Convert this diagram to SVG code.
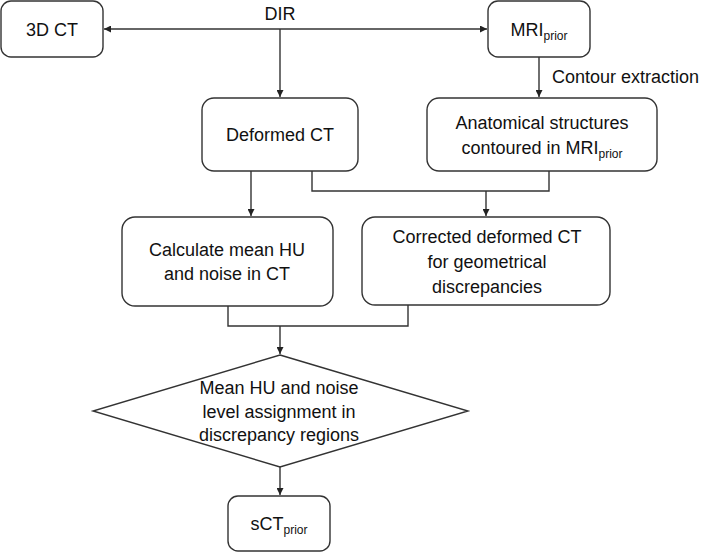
<svg xmlns="http://www.w3.org/2000/svg" width="709" height="552" viewBox="0 0 709 552">
<defs>
<marker id="ah" viewBox="0 0 10 10" refX="10" refY="5" markerWidth="7" markerHeight="7" markerUnits="userSpaceOnUse" orient="auto">
<path d="M0,0 L10,5 L0,10 z" fill="#222"/>
</marker>
<style>
.box{fill:#fff;stroke:#333;stroke-width:1.4}
.ln{fill:none;stroke:#333;stroke-width:1.4}
.t{font-family:"Liberation Sans",Arial,sans-serif;font-size:18px;fill:#111;text-anchor:middle}
.tl{font-family:"Liberation Sans",Arial,sans-serif;font-size:18px;fill:#111}
.sub{font-size:12px}
</style>
</defs>
<rect width="709" height="552" fill="#fff"/>
<g id="connectors">
<line class="ln" x1="280" y1="29" x2="104" y2="29" marker-end="url(#ah)"/>
<line class="ln" x1="280" y1="29" x2="487" y2="29" marker-end="url(#ah)"/>
<line class="ln" x1="280" y1="29" x2="280" y2="97" marker-end="url(#ah)"/>
<text class="t" x="280" y="20">DIR</text>
<line class="ln" x1="539" y1="57" x2="539" y2="97" marker-end="url(#ah)"/>
<text class="tl" x="552" y="83">Contour extraction</text>
<polyline class="ln" points="312,171 312,191 549,191 549,171"/>
<line class="ln" x1="486" y1="191" x2="486" y2="216" marker-end="url(#ah)"/>
<line class="ln" x1="251" y1="171" x2="251" y2="216" marker-end="url(#ah)"/>
<polyline class="ln" points="228,306 228,326 408,326 408,305"/>
<line class="ln" x1="280" y1="326" x2="280" y2="354" marker-end="url(#ah)"/>
<line class="ln" x1="280" y1="467" x2="280" y2="495" marker-end="url(#ah)"/>
</g>
<g id="ct3d">
<rect class="box" x="1" y="1" width="102" height="56" rx="10"/>
<text class="t" x="52" y="36">3D CT</text>
</g>
<g id="mriprior">
<rect class="box" x="488" y="1" width="102" height="56" rx="10"/>
<text class="t" x="539" y="36">MRI<tspan class="sub" dy="4">prior</tspan></text>
</g>
<g id="deformedct">
<rect class="box" x="202" y="98" width="156" height="73" rx="12"/>
<text class="t" x="280" y="141">Deformed CT</text>
</g>
<g id="anatomical">
<rect class="box" x="427" y="98" width="230" height="73" rx="12"/>
<text class="t" x="542" y="129">Anatomical structures</text>
<text class="t" x="542" y="154">contoured in MRI<tspan class="sub" dy="4">prior</tspan></text>
</g>
<g id="calculate">
<rect class="box" x="122" y="217" width="211" height="89" rx="13"/>
<text class="t" x="227" y="256">Calculate mean HU</text>
<text class="t" x="227" y="280">and noise in CT</text>
</g>
<g id="corrected">
<rect class="box" x="362" y="217" width="248" height="88" rx="13"/>
<text class="t" x="487" y="243">Corrected deformed CT</text>
<text class="t" x="487" y="268">for geometrical</text>
<text class="t" x="487" y="293">discrepancies</text>
</g>
<g id="assignment">
<polygon class="box" points="280,355 468,411 280,467 93,411"/>
<text class="t" x="279" y="394">Mean HU and noise</text>
<text class="t" x="279" y="418">level assignment in</text>
<text class="t" x="279" y="441">discrepancy regions</text>
</g>
<g id="sctprior">
<rect class="box" x="228" y="496" width="102" height="55" rx="10"/>
<text class="t" x="279" y="530">sCT<tspan class="sub" dy="4">prior</tspan></text>
</g>
</svg>
